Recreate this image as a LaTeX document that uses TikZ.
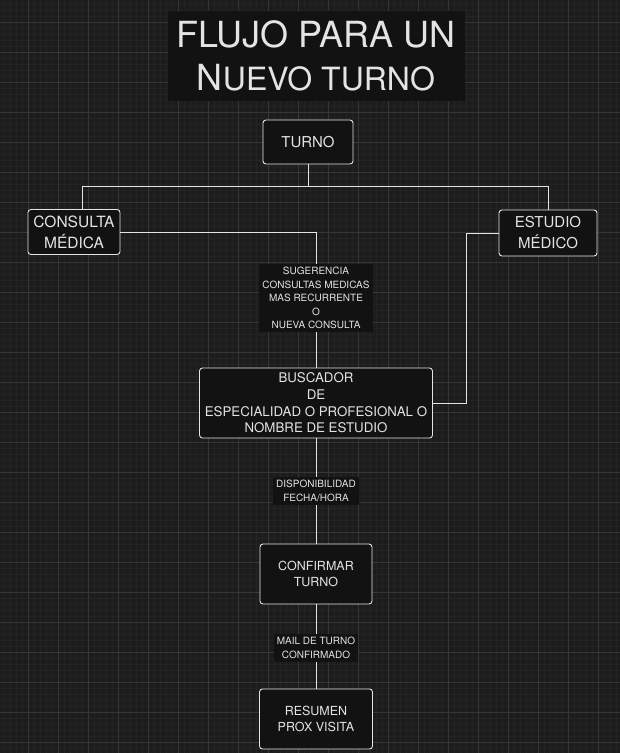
\documentclass[tikz,border=0pt]{standalone}
\usepackage{fontspec}
\setmainfont{TeX Gyre Heros}
\usepackage{tikz}
\definecolor{bgcol}{HTML}{1C1C1C}
\definecolor{boxcol}{HTML}{121212}
\definecolor{minorcol}{HTML}{232323}
\definecolor{majorcol}{HTML}{363636}
\definecolor{inkcol}{HTML}{E4E4E4}
\tikzset{
  stepbox/.style={draw=inkcol, fill=boxcol, text=inkcol, line width=0.9pt,
    rounded corners=3pt, align=center, inner sep=1pt, font=\fontsize{12.5}{15.5}\selectfont},
  flowlabel/.style={fill=boxcol, text=inkcol, align=center, inner sep=3pt,
    font=\fontsize{10}{13.5}\selectfont},
  link/.style={draw=inkcol, line width=0.9pt},
}

\begin{document}
\begin{tikzpicture}[x=1pt,y=-1pt]
\fill[bgcol] (0,0) rectangle (620,753);
\useasboundingbox (0,0) rectangle (620,753);
\foreach \x in {4,10,...,616} \draw[minorcol,line width=0.4pt] (\x,0) -- (\x,753);
\foreach \y in {4,10,...,752} \draw[minorcol,line width=0.4pt] (0,\y) -- (620,\y);
\foreach \x in {28,58,...,618} \draw[majorcol,line width=0.6pt] (\x,0) -- (\x,753);
\foreach \y in {22,52,...,742} \draw[majorcol,line width=0.6pt] (0,\y) -- (620,\y);

\node[fill=boxcol, text=inkcol, align=center, minimum width=297pt, minimum height=90pt,
  font=\fontsize{36}{43}\selectfont] (title) at (316,56) {FLUJO PARA UN\\N\fontsize{32}{43}\selectfont UEVO TURNO};

\node[stepbox, minimum width=90pt, minimum height=44pt, font=\fontsize{15}{19}\selectfont] (turno) at (308,142) {TURNO};
\node[stepbox, minimum width=92pt, minimum height=45pt, font=\fontsize{15.5}{21}\selectfont] (consulta) at (74,232) {CONSULTA\\MÉDICA};
\node[stepbox, minimum width=98pt, minimum height=46pt, font=\fontsize{15}{21}\selectfont] (estudio) at (548,233) {ESTUDIO\\MÉDICO};
\node[flowlabel] (sugerencia) at (316,298) {SUGERENCIA\\CONSULTAS MEDICAS\\MAS RECURRENTE\\O\\NUEVA CONSULTA};
\node[stepbox, minimum width=233pt, minimum height=70pt,
  font=\fontsize{13.3}{16.7}\selectfont] (buscador) at (316,403)
  {BUSCADOR\\DE\\ESPECIALIDAD O PROFESIONAL O\\NOMBRE DE ESTUDIO};
\node[flowlabel] (disponible) at (316,491) {DISPONIBILIDAD\\FECHA/HORA};
\node[stepbox, minimum width=112pt, minimum height=60pt] (confirmar) at (316,574) {CONFIRMAR\\TURNO};
\node[flowlabel] (mail) at (316,648) {MAIL DE TURNO\\CONFIRMADO};
\node[stepbox, minimum width=113pt, minimum height=60pt] (resumen) at (316,719) {RESUMEN\\PROX VISITA};

\coordinate (busL) at (82,186);
\coordinate (busR) at (548,186);
\coordinate (vuelta) at (466,403);

\draw[link] (turno.south) |- (busL) -- (busL |- consulta.north);
\draw[link] (turno.south) |- (busR) -- (busR |- estudio.north);
\draw[link] (consulta.east) -| (sugerencia.north);
\draw[link] (sugerencia.south) -- (buscador.north);
\draw[link] (estudio.west) -| (vuelta) -- (buscador.east);
\draw[link] (buscador.south) -- (disponible.north);
\draw[link] (disponible.south) -- (confirmar.north);
\draw[link] (confirmar.south) -- (mail.north);
\draw[link] (mail.south) -- (resumen.north);
\end{tikzpicture}
\end{document}
